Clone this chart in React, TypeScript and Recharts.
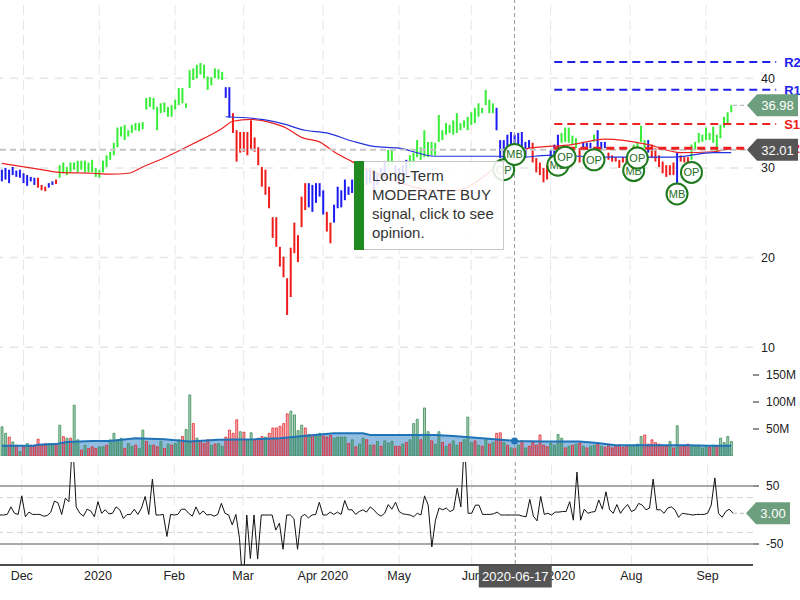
import {
  Area,
  Bar,
  Cell,
  ComposedChart,
  Line,
  ReferenceDot,
  ReferenceLine,
  XAxis,
  YAxis,
} from 'recharts'

const FONT = '"Liberation Sans", Arial, Helvetica, sans-serif'

// Trading days, Nov 2019 → Sep 2020
const MONTHS = ['2019-11', '2019-12', '2020-01', '2020-02', '2020-03', '2020-04', '2020-05', '2020-06', '2020-07', '2020-08', '2020-09']
const TRADING_DAYS = [
  [21, 22, 25, 26, 27, 29],
  [2, 3, 4, 5, 6, 9, 10, 11, 12, 13, 16, 17, 18, 19, 20, 23, 24, 26, 27, 30, 31],
  [2, 3, 6, 7, 8, 9, 10, 13, 14, 15, 16, 17, 21, 22, 23, 24, 27, 28, 29, 30, 31],
  [3, 4, 5, 6, 7, 10, 11, 12, 13, 14, 18, 19, 20, 21, 24, 25, 26, 27, 28],
  [2, 3, 4, 5, 6, 9, 10, 11, 12, 13, 16, 17, 18, 19, 20, 23, 24, 25, 26, 27, 30, 31],
  [1, 2, 3, 6, 7, 8, 9, 13, 14, 15, 16, 17, 20, 21, 22, 23, 24, 27, 28, 29, 30],
  [1, 4, 5, 6, 7, 8, 11, 12, 13, 14, 15, 18, 19, 20, 21, 22, 26, 27, 28, 29],
  [1, 2, 3, 4, 5, 8, 9, 10, 11, 12, 15, 16, 17, 18, 19, 22, 23, 24, 25, 26, 29, 30],
  [1, 2, 6, 7, 8, 9, 10, 13, 14, 15, 16, 17, 20, 21, 22, 23, 24, 27, 28, 29, 30, 31],
  [3, 4, 5, 6, 7, 10, 11, 12, 13, 14, 17, 18, 19, 20, 21, 24, 25, 26, 27, 28, 31],
  [1, 2, 3, 4, 8, 9, 10, 11],
]

const TICK_DATES = ['2019-12-02', '2020-01-02', '2020-02-03', '2020-03-02', '2020-04-01', '2020-05-01', '2020-06-01', '2020-07-01', '2020-08-03', '2020-09-01']
const TICK_LABELS = ['Dec', '2020', 'Feb', 'Mar', 'Apr 2020', 'May', 'Jun', 'Jul 2020', 'Aug', 'Sep']

const HIGH = [
  29.8, 30.0, 29.8, 30.1, 29.7, 29.8, 29.4, 29.2, 29.0, 28.9,
  28.9, 28.1, 27.9, 28.3, 28.5, 28.7, 30.3, 30.6, 30.1, 30.6,
  30.6, 30.8, 30.8, 30.8, 30.6, 30.9, 30.0, 29.8, 30.8, 31.4,
  31.8, 32.8, 34.5, 34.6, 34.8, 34.2, 34.8, 35.0, 35.0, 35.1,
  37.8, 37.9, 37.8, 36.8, 37.2, 37.3, 36.8, 37.0, 37.6, 38.9,
  38.9, 37.2, 40.9, 41.1, 41.5, 41.7, 41.5, 40.2, 40.1, 41.1,
  41.0, 40.7, 39.0, 39.0, 36.1, 34.2, 34.0, 34.0, 34.0, 35.3,
  33.4, 32.3, 30.1, 29.8, 27.9, 24.5, 24.5, 21.2, 20.1, 17.7,
  21.1, 23.9, 22.5, 26.8, 28.3, 28.3, 28.1, 28.3, 28.3, 27.5,
  25.1, 23.9, 25.9, 27.9, 27.5, 28.7, 27.9, 28.7, 28.9, 29.2,
  29.5, 29.8, 30.0, 29.8, 29.5, 30.0, 30.7, 32.0, 32.0, 30.3,
  30.0, 30.3, 30.9, 31.4, 31.7, 33.1, 32.3, 34.2, 32.9, 32.9,
  32.8, 35.9, 34.2, 35.0, 34.8, 35.3, 36.1, 35.0, 35.3, 35.7,
  36.2, 36.7, 37.2, 36.7, 38.7, 37.6, 37.2, 36.7, 33.1, 33.1,
  33.7, 34.0, 33.7, 33.9, 34.0, 32.9, 33.1, 32.8, 31.1, 30.6,
  30.0, 30.3, 32.0, 32.6, 33.7, 33.9, 34.5, 34.5, 33.6, 33.3,
  32.2, 32.9, 32.8, 32.8, 33.7, 34.2, 32.9, 32.9, 31.7, 31.4,
  31.2, 30.9, 31.2, 31.1, 32.0, 32.6, 32.9, 34.7, 33.1, 33.1,
  32.6, 32.2, 31.4, 30.7, 30.3, 30.3, 30.6, 31.7, 31.4, 31.2,
  31.2, 32.6, 32.9, 33.9, 33.7, 34.5, 33.9, 34.6, 33.7, 34.8,
  35.7, 36.2, 37.0,
]

const LOW = [
  28.5, 28.7, 28.3, 29.2, 29.0, 28.9, 28.3, 28.0, 28.5, 28.1,
  27.8, 27.5, 27.4, 27.8, 28.1, 28.2, 28.9, 29.4, 29.2, 29.5,
  29.8, 29.5, 29.8, 29.5, 29.5, 29.5, 29.0, 28.9, 29.5, 30.1,
  30.9, 31.4, 32.3, 33.5, 33.1, 33.5, 33.9, 34.2, 34.1, 34.3,
  36.5, 36.8, 36.5, 34.2, 36.1, 36.2, 35.7, 35.7, 36.5, 37.0,
  37.2, 36.7, 38.9, 39.8, 40.0, 40.4, 40.0, 38.7, 39.2, 40.0,
  39.9, 39.8, 37.8, 35.6, 33.9, 30.7, 31.7, 31.8, 31.4, 32.0,
  31.8, 30.3, 27.9, 27.0, 25.5, 22.2, 21.2, 19.0, 17.8, 13.6,
  15.6, 20.5, 19.5, 23.4, 25.3, 25.6, 25.1, 26.1, 26.8, 24.8,
  22.9, 21.6, 23.9, 25.5, 25.6, 26.4, 27.0, 27.2, 27.3, 27.5,
  27.8, 28.1, 28.3, 27.5, 28.1, 28.7, 28.9, 30.0, 30.3, 28.7,
  28.1, 28.9, 29.2, 30.0, 30.3, 31.2, 30.9, 31.2, 31.2, 31.4,
  31.4, 32.9, 33.1, 33.7, 33.9, 33.7, 33.9, 34.2, 34.5, 34.2,
  34.8, 35.0, 35.7, 36.1, 37.0, 36.1, 36.1, 34.2, 31.1, 30.9,
  31.4, 31.8, 32.3, 31.4, 31.8, 31.1, 32.2, 30.6, 29.5, 29.2,
  28.4, 28.7, 30.3, 31.1, 32.2, 32.8, 32.9, 32.8, 32.6, 32.2,
  30.6, 32.0, 32.0, 32.2, 32.9, 32.2, 32.0, 32.2, 30.9, 30.7,
  30.7, 30.0, 30.6, 30.0, 30.9, 31.8, 32.0, 32.9, 32.2, 31.7,
  31.1, 30.7, 30.1, 29.4, 29.0, 29.2, 29.2, 28.3, 30.7, 30.6,
  30.3, 30.9, 32.0, 32.8, 32.9, 33.1, 33.1, 32.8, 31.7, 33.3,
  34.5, 35.0, 36.2,
]

// G = uptrend, B = neutral, R = downtrend
const TREND =
  'BBBBBBBBBB' + 'RRRBBRGGGG' + 'GGGGGGGGGG' + 'GGGGGGGGGG' + 'GGGGGGGGGG' +
  'GGGGGGGGGG' + 'GGBBRRRRRR' + 'RRRRRRRRRR' + 'RRRRRBBBBB' + 'RRBBBBBBBB' +
  'BBBBBBBGGB' + 'BBBGGGGGGG' + 'GGGGGGGGGG' + 'GGGGGGGBBB' + 'BBBBBBBRRR' +
  'RRBBBGGGGG' + 'RBBBGBBBRR' + 'RRRRBGGGGB' + 'RRRRRRRBRR' + 'RGGGGGGGGG' + 'GGG'

// volume, millions
const VOLUME = [
  54, 42, 35, 26, 20, 8, 17, 23, 20, 20,
  31, 20, 23, 23, 23, 23, 57, 36, 33, 33,
  94, 30, 11, 20, 14, 17, 14, 17, 17, 20,
  30, 42, 30, 33, 14, 23, 18, 20, 14, 48,
  27, 20, 20, 17, 27, 14, 22, 20, 23, 30,
  36, 49, 113, 60, 33, 27, 23, 30, 20, 22,
  23, 18, 35, 48, 42, 67, 45, 44, 30, 43,
  30, 33, 36, 35, 42, 52, 52, 55, 60, 78,
  83, 76, 47, 57, 52, 40, 38, 37, 42, 37,
  35, 38, 33, 35, 35, 35, 23, 30, 17, 22,
  33, 30, 20, 20, 27, 18, 28, 24, 27, 18,
  18, 22, 25, 30, 60, 68, 30, 89, 45, 28,
  22, 45, 25, 18, 22, 28, 20, 25, 30, 72,
  25, 28, 20, 18, 30, 22, 25, 42, 43, 25,
  20, 15, 14, 20, 28, 15, 18, 25, 20, 39,
  20, 17, 24, 20, 40, 33, 15, 18, 20, 22,
  24, 18, 15, 18, 20, 22, 18, 16, 20, 15,
  18, 20, 16, 18, 20, 18, 22, 36, 39, 22,
  30, 25, 22, 20, 18, 27, 15, 56, 20, 18,
  22, 20, 18, 20, 15, 18, 16, 20, 18, 33,
  25, 36, 27,
]

const VOL_DIR =
  'ggrgrgrgrr' + 'rrrggrgrgr' + 'ggrgrrrggr' + 'ggggrggrgg' + 'rgrrgrgrgg' +
  'rggrgrrrgr' + 'ggrrrrgrgg' + 'rrrgrrrrrr' + 'ggggrgrggr' + 'rrggggrgrg' +
  'grgrgrgggr' + 'rgrgggrggr' + 'ggrgrggrgg' + 'grgrgrgrrg' + 'rgrgrgrrrr' +
  'rrggggrgrg' + 'rgrggrgrrr' + 'rrrrggggrr' + 'rrrrrgrgrr' + 'rgggggrgrg' + 'ggg'

const VOL_AVG_IDX = [0, 9, 10, 15, 18, 25, 30, 37, 45, 52, 60, 70, 77, 85, 92, 100, 102, 110, 120, 125, 133, 142, 150, 160, 165, 170, 180, 190, 196, 202]
const VOL_AVG_VAL = [19, 19, 21, 22, 26, 28, 28, 33, 31, 27, 30, 31, 33, 38, 42, 42, 39, 39, 39, 37, 33, 28, 27, 27, 24, 20, 20, 20, 19, 19]

const MA_RED_IDX = [0, 11, 16, 25, 30, 35, 39, 46, 51, 55, 57, 61, 64, 69, 74, 79, 83, 88, 92, 97, 103, 110, 119, 126, 133, 138, 142, 146, 158, 167, 179, 188, 197, 202]
const MA_RED_VAL = [30.5, 29.8, 29.5, 29.4, 29.3, 29.4, 30.1, 31.3, 32.3, 33.1, 33.5, 34.4, 35.2, 35.4, 35.1, 34.4, 33.4, 32.9, 31.8, 30.7, 29.5, 28.4, 27.5, 27.5, 28.9, 30.5, 31.4, 32.2, 32.6, 33.2, 32.6, 31.7, 31.8, 32.2]
const MA_BLUE_IDX = [62, 72, 78, 84, 90, 97, 103, 110, 120, 137, 144, 151, 169, 186, 197, 202]
const MA_BLUE_VAL = [35.7, 35.4, 34.9, 34.2, 33.9, 33.0, 32.4, 32.2, 31.3, 31.3, 31.2, 31.4, 31.2, 31.2, 31.7, 31.7]

const OSC = [
  0, 0, 1, 14, 3, 1, 33, -3, 5, 1,
  1, 1, -2, -1, 5, 24, 21, 1, 29, 23,
  130, 14, 3, -2, 10, 7, -3, 23, 3, 9,
  2, 3, 14, 9, -6, 1, 1, 10, 1, 12,
  32, 1, 62, 0, 0, 1, -37, 1, 0, 1,
  10, 10, 3, -2, 14, 1, 7, 0, 1, -2,
  1, 20, 3, 0, -17, 1, -40, -130, 0, -75,
  0, -76, 0, 0, 0, 0, -26, -14, -59, 0,
  0, -6, -59, -3, 1, -5, 0, 1, 22, 0,
  0, 5, 1, 5, 1, 25, 9, 9, 1, 6,
  9, 5, 14, 9, 2, -2, 3, 18, 10, 22,
  6, 2, 1, 0, -3, 3, 0, 33, 17, -55,
  -9, 12, 9, 12, 6, 9, 46, 14, 130, 3,
  3, 17, 17, 1, 1, 1, 2, 5, 0, 0,
  0, 0, 0, 0, -2, -3, 27, -2, -10, 32,
  1, 3, 0, 5, 5, 6, 6, 23, -9, 74,
  -9, 10, 3, 5, 6, 26, 10, 40, 9, 3,
  18, 3, 12, 18, 6, 9, 20, 17, 9, 12,
  62, 9, 9, 3, 12, 14, 9, -4, 3, 2,
  1, 0, 1, 1, 1, 3, 17, 64, 3, -4,
  6, 10, 3,
]

const LEVEL_NAMES = ['R2', 'R1', 'S1', 'S2']
const LEVEL_VALUES = [41.8, 38.7, 34.9, 32.2]
const LEVEL_FROM = 153

const SIG_IDX = [139, 142, 154, 175, 187, 156, 164, 176, 191]
const SIG_PRICE = [29.8, 31.5, 30.3, 29.7, 27.1, 31.2, 30.9, 31.1, 29.5]
const SIG_TEXT = ['OP', 'MB', 'MB', 'MB', 'MB', 'OP', 'OP', 'OP', 'OP']

const LAST_PRICE = 36.98
const CROSS_PRICE = 32.01
const CROSS_DATE = '2020-06-17'
const LAST_OSC = 3.0

const DATES = MONTHS.flatMap((m, k) => TRADING_DAYS[k].map((d) => `${m}-${String(d).padStart(2, '0')}`))
const redAt = new Map(MA_RED_IDX.map((k, j) => [k, MA_RED_VAL[j]]))
const blueAt = new Map(MA_BLUE_IDX.map((k, j) => [k, MA_BLUE_VAL[j]]))
const volAvgAt = new Map(VOL_AVG_IDX.map((k, j) => [k, VOL_AVG_VAL[j]]))

const rows = DATES.map((date, i) => ({
  date,
  hi: HIGH[i],
  lo: LOW[i],
  trend: TREND[i],
  vol: VOLUME[i],
  dir: VOL_DIR[i],
  volAvg: volAvgAt.get(i) ?? null,
  maRed: redAt.get(i) ?? null,
  maBlue: blueAt.get(i) ?? null,
  osc: OSC[i],
}))
const crossRow = rows.find((r) => r.date === CROSS_DATE)!

const TREND_COLOR: Record<string, string> = { G: '#36ee36', B: '#1c1cf2', R: '#f01c1c' }
const GRID = '#e6e6e6'
const TAG_GREEN = '#6d9e7e'

function PriceBar(props: any) {
  const { x, y, width, height, payload } = props
  const top = Math.min(y, y + height)
  const h = Math.max(Math.abs(height), 1)
  return <rect x={x + width / 2 - 1} y={top} width={2} height={h} fill={TREND_COLOR[payload.trend]} />
}

function Tag({ tipX, cy, right, fill, text }: { tipX: number; cy: number; right: number; fill: string; text: string }) {
  const h = 11
  return (
    <g>
      <polygon
        points={`${tipX},${cy} ${tipX + 10},${cy - h} ${right},${cy - h} ${right},${cy + h} ${tipX + 10},${cy + h}`}
        fill={fill}
      />
      <text x={(tipX + 10 + right) / 2} y={cy} dy="0.36em" textAnchor="middle" fill="#fff" fontSize={13} fontFamily={FONT}>
        {text}
      </text>
    </g>
  )
}

function Signal({ cx, cy, text }: { cx: number; cy: number; text: string }) {
  return (
    <g>
      <circle cx={cx} cy={cy} r={10.5} fill="#fff" stroke="#1d7a1d" strokeWidth={2} />
      <text x={cx} y={cy} dy="0.36em" textAnchor="middle" fontSize={11} fill="#1d6e1d" fontFamily={FONT}>
        {text}
      </text>
    </g>
  )
}

const monthLines = () =>
  TICK_DATES.map((d) => <ReferenceLine key={d} x={d} stroke={GRID} strokeDasharray="10 5" zIndex={-100} />)

const crossLine = <ReferenceLine x={CROSS_DATE} stroke="#9a9a9a" strokeDasharray="4 3" zIndex={450} />

const axisTick = { fontSize: 12.5, fill: '#222', fontFamily: FONT }

// right end of a horizontal reference line, whichever way round the library hands it over
const rightEnd = (p: any) => Math.max(p.x1, p.x2)
const leftEnd = (p: any) => Math.min(p.x1, p.x2)

export default function App() {
  return (
    <div style={{ position: 'absolute', left: 0, top: 0, width: 800, height: 600, background: '#fff', overflow: 'hidden', fontFamily: FONT }}>
      {/* price */}
      <div style={{ position: 'absolute', left: 0, top: 0 }}>
        <ComposedChart width={800} height={360} data={rows} margin={{ top: 0, right: 0, bottom: 0, left: 0 }}>
          <XAxis dataKey="date" hide padding={{ left: 0, right: 20 }} />
          <YAxis
            orientation="right"
            width={47}
            domain={[8.58, 48.72]}
            ticks={[10, 20, 30, 40]}
            allowDataOverflow
            tickLine={false}
            axisLine={false}
            tick={axisTick}
          />
          {monthLines()}
          {[10, 20, 30, 40].map((v) => (
            <ReferenceLine key={v} y={v} stroke={GRID} strokeWidth={1.5} strokeDasharray="8 7" zIndex={-100} />
          ))}
          <Bar dataKey={(d: any) => [d.lo, d.hi]} shape={<PriceBar />} activeBar={false} isAnimationActive={false} />
          <Line dataKey="maRed" type="monotone" stroke="#ee2020" strokeWidth={1.2} dot={false} activeDot={false} connectNulls isAnimationActive={false} />
          <Line dataKey="maBlue" type="monotone" stroke="#2233dd" strokeWidth={1.2} dot={false} activeDot={false} connectNulls isAnimationActive={false} />
          <ReferenceLine
            y={CROSS_PRICE}
            zIndex={450}
            shape={(p: any) => (
              <line x1={leftEnd(p)} x2={rightEnd(p) - 5} y1={p.y1} y2={p.y1} stroke="#c6c6c6" strokeWidth={2} strokeDasharray="6 4" />
            )}
          />
          {crossLine}
          {LEVEL_NAMES.map((name, k) => {
            const color = name[0] === 'R' ? '#2020ee' : '#ee2020'
            return (
              <ReferenceLine
                key={name}
                zIndex={460}
                segment={[
                  { x: DATES[LEVEL_FROM], y: LEVEL_VALUES[k] },
                  { x: DATES[DATES.length - 1], y: LEVEL_VALUES[k] },
                ]}
                shape={(p: any) => (
                  <g>
                    <line
                      x1={leftEnd(p)}
                      x2={rightEnd(p) + 45}
                      y1={p.y1}
                      y2={p.y1}
                      stroke={color}
                      strokeWidth={name === 'S2' ? 3 : 2}
                      strokeDasharray="8 5"
                    />
                    <text x={rightEnd(p) + 53} y={p.y1} dy="0.36em" fill={color} fontSize={13} fontWeight="bold" fontFamily={FONT}>
                      {name}
                    </text>
                  </g>
                )}
              />
            )
          })}
          {SIG_TEXT.map((t, k) => (
            <ReferenceDot
              key={k}
              x={DATES[SIG_IDX[k]]}
              y={SIG_PRICE[k]}
              r={11}
              zIndex={600 + k}
              shape={(p: any) => <Signal cx={p.cx} cy={p.cy} text={t} />}
            />
          ))}
          <ReferenceLine
            y={LAST_PRICE}
            zIndex={700}
            shape={(p: any) => (
              <g>
                <line x1={rightEnd(p) - 20} x2={rightEnd(p) - 6} y1={p.y1} y2={p.y1} stroke="#aaa" strokeDasharray="4 3" />
                <Tag tipX={rightEnd(p) - 6} cy={p.y1} right={rightEnd(p) + 45} fill={TAG_GREEN} text={LAST_PRICE.toFixed(2)} />
              </g>
            )}
          />
          <ReferenceLine
            y={CROSS_PRICE}
            zIndex={700}
            shape={(p: any) => <Tag tipX={rightEnd(p) - 6} cy={p.y1} right={rightEnd(p) + 45} fill="#555" text={CROSS_PRICE.toFixed(2)} />}
          />
        </ComposedChart>
      </div>

      {/* volume */}
      <div style={{ position: 'absolute', left: 0, top: 360 }}>
        <ComposedChart width={800} height={96} data={rows} margin={{ top: 0, right: 0, bottom: 0, left: 0 }}>
          <XAxis dataKey="date" hide padding={{ left: 0, right: 20 }} />
          <YAxis
            orientation="right"
            width={47}
            domain={[0, 177.8]}
            ticks={[50, 100, 150]}
            allowDataOverflow
            tickFormatter={(v: number) => `${v}M`}
            tickSize={6}
            tickMargin={7}
            tickLine={{ stroke: '#222' }}
            axisLine={false}
            tick={{ ...axisTick, fontSize: 12 }}
          />
          {monthLines()}
          <Area dataKey="volAvg" type="linear" connectNulls stroke="none" fill="#7fb0da" fillOpacity={0.85} isAnimationActive={false} dot={false} activeDot={false} />
          <Bar dataKey="vol" barSize={2} activeBar={false} isAnimationActive={false}>
            {rows.map((r) => (
              <Cell
                key={r.date}
                fill={r.dir === 'g' ? 'rgba(60,150,90,0.45)' : 'rgba(215,50,80,0.35)'}
                stroke={r.dir === 'g' ? 'rgba(60,140,90,0.8)' : 'rgba(230,30,30,0.75)'}
                strokeWidth={1}
              />
            ))}
          </Bar>
          <Line dataKey="volAvg" type="linear" connectNulls stroke="#1f73b7" strokeWidth={2} dot={false} activeDot={false} isAnimationActive={false} />
          {crossLine}
          <ReferenceDot x={CROSS_DATE} y={crossRow.volAvg ?? 0} r={3.5} fill="#1f73b7" stroke="none" zIndex={700} />
        </ComposedChart>
      </div>

      {/* oscillator */}
      <div style={{ position: 'absolute', left: 0, top: 462 }}>
        <ComposedChart width={800} height={138} data={rows} margin={{ top: 0, right: 0, bottom: 0, left: 0 }}>
          <XAxis
            dataKey="date"
            padding={{ left: 0, right: 20 }}
            ticks={TICK_DATES}
            interval={0}
            tickFormatter={(d: string) => TICK_LABELS[TICK_DATES.indexOf(d)] ?? ''}
            tickLine={false}
            tickSize={0}
            tickMargin={6}
            axisLine={{ stroke: '#111', strokeWidth: 1.5 }}
            height={35}
            tick={axisTick}
          />
          <YAxis
            orientation="right"
            width={47}
            domain={[-86.2, 91.4]}
            ticks={[-50, 50]}
            allowDataOverflow
            tickSize={6}
            tickMargin={7}
            tickLine={{ stroke: '#222' }}
            axisLine={false}
            tick={{ ...axisTick, fontSize: 12 }}
          />
          {monthLines()}
          {[50, -50].map((v) => (
            <ReferenceLine key={v} y={v} stroke="#a9a9a9" strokeWidth={2} zIndex={-90} />
          ))}
          {[30, -30].map((v) => (
            <ReferenceLine key={v} y={v} stroke="#d2d2d2" strokeDasharray="6 4" zIndex={-90} />
          ))}
          <Line dataKey="osc" type="linear" stroke="#111" strokeWidth={1} dot={false} activeDot={false} isAnimationActive={false} />
          <ReferenceLine
            y={LAST_OSC}
            zIndex={700}
            shape={(p: any) => (
              <g>
                <line x1={rightEnd(p) - 20} x2={rightEnd(p) - 7} y1={p.y1} y2={p.y1} stroke="#bbb" strokeDasharray="4 3" />
                <Tag tipX={rightEnd(p) - 7} cy={p.y1} right={rightEnd(p) + 37} fill={TAG_GREEN} text={LAST_OSC.toFixed(2)} />
              </g>
            )}
          />
          <ReferenceLine
            x={CROSS_DATE}
            zIndex={2500}
            shape={(p: any) => {
              const bottom = Math.max(p.y1, p.y2)
              return (
                <g>
                  <line x1={p.x1} x2={p.x1} y1={Math.min(p.y1, p.y2)} y2={bottom} stroke="#9a9a9a" strokeDasharray="4 3" />
                  <rect x={p.x1 - 36.5} y={bottom + 0.5} width={73} height={22} fill="#555" />
                  <text x={p.x1} y={bottom + 11.5} dy="0.36em" textAnchor="middle" fill="#fff" fontSize={13} fontFamily={FONT}>
                    {CROSS_DATE}
                  </text>
                </g>
              )
            }}
          />
        </ComposedChart>
      </div>

      {/* signal tooltip */}
      <div style={{ position: 'absolute', left: 354, top: 161, width: 150, height: 89, display: 'flex' }}>
        <div style={{ width: 10, background: '#1f8a1f' }} />
        <div
          style={{
            flex: 1,
            background: 'rgba(255,255,255,0.86)',
            border: '1px solid #c8c8c8',
            borderLeft: 'none',
            padding: '4px 0 0 8px',
            fontSize: 15,
            lineHeight: '19px',
            color: '#333',
            whiteSpace: 'nowrap',
          }}
        >
          Long-Term
          <br />
          MODERATE BUY
          <br />
          signal, click to see
          <br />
          opinion.
        </div>
      </div>
    </div>
  )
}
